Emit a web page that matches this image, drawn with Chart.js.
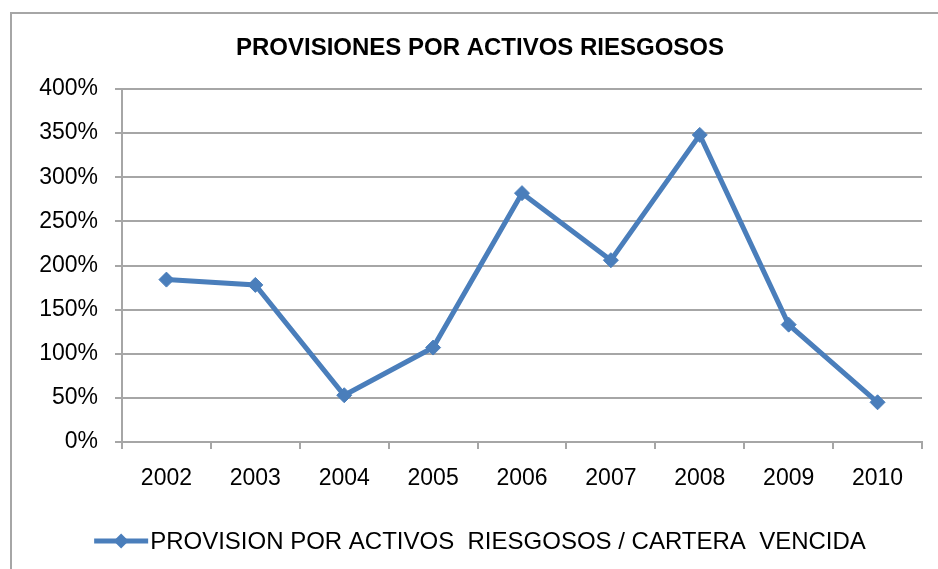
<!DOCTYPE html>
<html>
<head>
<meta charset="utf-8">
<script src="https://cdn.jsdelivr.net/npm/chart.js@4/dist/chart.umd.min.js"></script>
<style>
  html, body { margin: 0; padding: 0; background: #fff; overflow: hidden; }
  #frame { position: absolute; left: 10px; top: 12px; width: 1000px; height: 600px;
           border-left: 2px solid #a6a6a6; border-top: 2px solid #a6a6a6; }
  #chart { position: absolute; left: 0; top: 0; }
</style>
</head>
<body>
<div id="frame"></div>
<canvas id="chart" width="960" height="569"></canvas>
<script>
// Provision ratio per year (1 = 100%)
const years = ['2002', '2003', '2004', '2005', '2006', '2007', '2008', '2009', '2010'];
const provisionRatio = [1.84, 1.78, 0.53, 1.07, 2.82, 2.06, 3.48, 1.33, 0.45];
const seriesLabel = 'PROVISION POR ACTIVOS  RIESGOSOS / CARTERA  VENCIDA';
const chartTitle = 'PROVISIONES POR ACTIVOS RIESGOSOS';

const lineBlue = '#4a7ebb';
const gridGray = '#a6a6a6';
const fontFamily = '"Liberation Sans", Arial, sans-serif';

// Title and legend are centred on the whole chart box, not on the plot area
const titleAndLegend = {
    id: 'titleAndLegend',
    afterDraw(chart) {
        const ctx = chart.ctx;
        const ds = chart.data.datasets[0];
        const mid = chart.width / 2;
        ctx.save();

        // title
        ctx.font = 'bold 24px ' + fontFamily;
        ctx.fillStyle = '#000';
        ctx.textAlign = 'center';
        ctx.textBaseline = 'middle';
        ctx.fillText(chartTitle, mid, 48);

        // legend: line with diamond marker, then the label
        ctx.font = '24px ' + fontFamily;
        ctx.textAlign = 'left';
        const textWidth = ctx.measureText(ds.label).width;
        const markLen = 54;
        const total = markLen + 2 + textWidth;
        const x0 = mid - total / 2;
        const y = 541;

        ctx.strokeStyle = ds.borderColor;
        ctx.lineWidth = 5;
        ctx.beginPath();
        ctx.moveTo(x0, y);
        ctx.lineTo(x0 + markLen, y);
        ctx.stroke();

        const cx = x0 + markLen / 2, r = 7.5;
        ctx.fillStyle = ds.borderColor;
        ctx.beginPath();
        ctx.moveTo(cx, y - r);
        ctx.lineTo(cx + r, y);
        ctx.lineTo(cx, y + r);
        ctx.lineTo(cx - r, y);
        ctx.closePath();
        ctx.fill();

        ctx.fillStyle = '#000';
        ctx.fillText(ds.label, x0 + markLen + 2, y + 1);
        ctx.restore();
    }
};

const ctx = document.getElementById('chart').getContext('2d');
new Chart(ctx, {
    type: 'line',
    data: {
        labels: years,
        datasets: [{
            label: seriesLabel,
            data: provisionRatio,
            borderColor: lineBlue,
            backgroundColor: lineBlue,
            borderWidth: 5,
            tension: 0,
            pointStyle: 'rectRot',
            pointRadius: 7.5,
            pointBorderWidth: 1,
            pointBackgroundColor: lineBlue,
            pointBorderColor: lineBlue
        }]
    },
    options: {
        responsive: false,
        animation: false,
        layout: { padding: { top: 89, left: 0, right: 38, bottom: 70 } },
        plugins: {
            legend: { display: false },
            tooltip: { enabled: false },
            title: { display: false }
        },
        scales: {
            x: {
                offset: true,
                grid: {
                    offset: true,
                    drawOnChartArea: false,
                    drawTicks: true,
                    tickLength: 7,
                    color: gridGray,
                    lineWidth: 2
                },
                border: { display: true, color: gridGray, width: 2 },
                ticks: {
                    color: '#000',
                    padding: 16,
                    maxRotation: 0,
                    font: { family: fontFamily, size: 23 }
                },
                afterFit(scale) { scale.height = 57; }
            },
            y: {
                min: 0,
                max: 4,
                grid: {
                    drawTicks: true,
                    tickLength: 7,
                    color: gridGray,
                    lineWidth: 2
                },
                border: { display: true, color: gridGray, width: 2 },
                ticks: {
                    stepSize: 0.5,
                    color: '#000',
                    padding: 17,
                    font: { family: fontFamily, size: 23 },
                    callback: (v) => Math.round(v * 100) + '%'
                },
                afterFit(scale) { scale.width = 122; }
            }
        }
    },
    plugins: [titleAndLegend]
});
</script>
</body>
</html>
